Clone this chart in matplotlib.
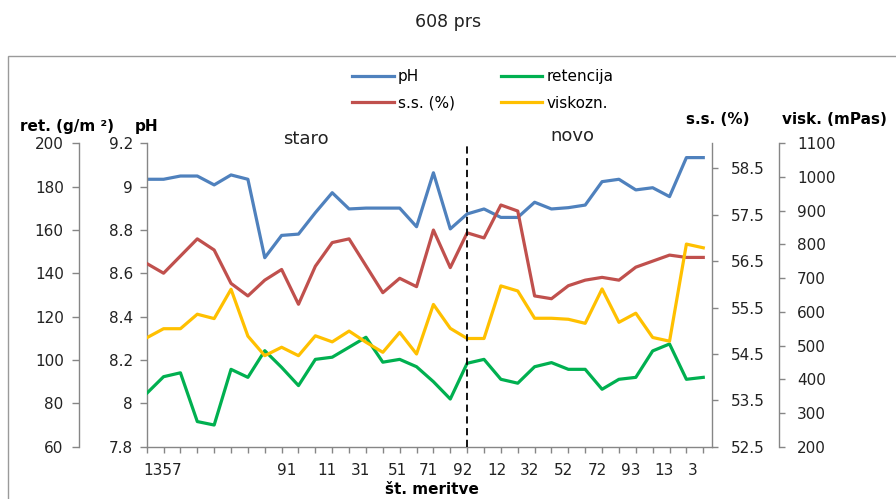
import matplotlib
matplotlib.use("Agg")
import matplotlib.pyplot as plt
from matplotlib.patches import Rectangle
import numpy as np

# ---- data ----
ph = [9.034, 9.034, 9.049, 9.049, 9.008, 9.054, 9.034, 8.672, 8.775, 8.781,
      8.880, 8.972, 8.897, 8.901, 8.901, 8.901, 8.815, 9.064, 8.805, 8.874,
      8.897, 8.858, 8.858, 8.928, 8.897, 8.903, 8.915, 9.023, 9.034, 8.985,
      8.995, 8.954, 9.134, 9.134]
ss = [56.45, 56.24, 56.61, 56.98, 56.74, 56.02, 55.75, 56.09, 56.32, 55.57,
      56.39, 56.90, 56.98, 56.40, 55.82, 56.13, 55.95, 57.17, 56.36, 57.11,
      57.00, 57.71, 57.58, 55.75, 55.69, 55.97, 56.09, 56.15, 56.09, 56.37,
      56.50, 56.63, 56.58, 56.58]
ret = [84.6, 92.3, 94.1, 71.6, 70.0, 95.7, 92.0, 104.3, 96.6, 88.2,
       100.3, 101.3, 105.9, 110.5, 99.0, 100.3, 96.9, 90.0, 82.0, 98.5,
       100.3, 91.1, 89.3, 96.9, 98.8, 95.7, 95.7, 86.5, 91.1, 92.0,
       104.2, 107.4, 91.1, 92.0]
visk = [523, 550, 550, 593, 580, 667, 528, 470, 495, 470,
        529, 511, 543, 510, 480, 539, 475, 622, 551, 521,
        521, 677, 662, 581, 581, 578, 566, 668, 569, 596,
        524, 513, 801, 790]
xlabels = ["1357", "91", "11", "31", "51", "71", "92", "12", "32", "52", "72", "93", "13", "3"]
xlabel_pos = [0.97, 8.32, 10.7, 12.65, 14.9, 16.7, 18.73, 20.75, 22.7, 24.72, 26.7, 28.7, 30.7, 32.4]
split_index = 19

x = np.arange(len(ph))

C_PH = "#4F81BD"
C_SS = "#C0504D"
C_RET = "#00B050"
C_VISK = "#FFC000"
GRAY = "#868686"
TXT = "#222222"
LW = 2.3

W, H = 896, 499
fig = plt.figure(figsize=(W / 100, H / 100), dpi=100)

L, R, T, B = 146.7, 711.7, 143.3, 446.7
ax = fig.add_axes([L / W, 1 - B / H, (R - L) / W, (B - T) / H])
ax_ret = ax.twinx()
ax_ss = ax.twinx()
ax_visk = ax.twinx()

l_ph, = ax.plot(x, ph, color=C_PH, lw=LW, solid_joinstyle="round", label="pH")
l_ret, = ax_ret.plot(x, ret, color=C_RET, lw=LW, solid_joinstyle="round", label="retencija")
l_ss, = ax_ss.plot(x, ss, color=C_SS, lw=LW, solid_joinstyle="round", label="s.s. (%)")
l_visk, = ax_visk.plot(x, visk, color=C_VISK, lw=LW, solid_joinstyle="round", label="viskozn.")

ax_visk.axvline(split_index, color="black", lw=1.3, ls=(0, (4, 2.5)), zorder=10)

# limits
ax.set_xlim(0, 33.5)
ax.set_ylim(7.8, 9.2)
ax_ret.set_ylim(60, 200)
ax_ss.set_ylim(52.5, 59.04)
ax_visk.set_ylim(200, 1100)

ax.set_yticks(np.arange(7.8, 9.21, 0.2))
ax.set_yticklabels(["7.8", "8", "8.2", "8.4", "8.6", "8.8", "9", "9.2"])
ax_ret.set_yticks(np.arange(60, 201, 20))
ax_ss.set_yticks(np.arange(52.5, 58.51, 1.0))
ax_visk.set_yticks(np.arange(200, 1101, 100))

# spines
for a in (ax, ax_ret, ax_ss, ax_visk):
    for s in a.spines.values():
        s.set_visible(False)
        s.set_color(GRAY)
        s.set_linewidth(1.0)

ax.spines["left"].set_visible(True)
ax.spines["bottom"].set_visible(True)

ax_ret.spines["left"].set_visible(True)
ax_ret.spines["left"].set_position(("axes", (79 - L) / (R - L)))
ax_ret.yaxis.set_ticks_position("left")

ax_ss.spines["right"].set_visible(True)
ax_ss.yaxis.set_ticks_position("right")

ax_visk.spines["right"].set_visible(True)
ax_visk.spines["right"].set_position(("axes", (779 - L) / (R - L)))
ax_visk.yaxis.set_ticks_position("right")

FS = 11
ax.tick_params(axis="y", direction="out", length=5, width=1, color=GRAY,
               labelsize=FS, labelcolor=TXT, pad=5)
ax_ret.tick_params(axis="y", direction="out", length=5, width=1, color=GRAY,
                   labelsize=FS, labelcolor=TXT, pad=6)
ax_ss.tick_params(axis="y", direction="out", length=4, width=1, color=GRAY,
                  labelsize=FS, labelcolor=TXT, pad=10)
ax_visk.tick_params(axis="y", direction="out", length=4, width=1, color=GRAY,
                    labelsize=FS, labelcolor=TXT, pad=9)

# x axis: minor tick marks on every category, labels at measured spots
ax.set_xticks(x, minor=True)
ax.set_xticks(xlabel_pos)
ax.set_xticklabels(xlabels)
ax.tick_params(axis="x", which="minor", direction="out", length=4, width=1, color=GRAY)
ax.tick_params(axis="x", which="major", length=0, labelsize=FS, labelcolor=TXT, pad=12)

# axis titles
fig.text(20 / W, 1 - 127 / H, "ret. (g/m ²)", fontsize=11, fontweight="bold",
         ha="left", va="center", color="black")
fig.text(135 / W, 1 - 127 / H, "pH", fontsize=11, fontweight="bold",
         ha="left", va="center", color="black")
fig.text(749 / W, 1 - 119 / H, "s.s. (%)", fontsize=11, fontweight="bold",
         ha="right", va="center", color="black")
fig.text(782 / W, 1 - 119 / H, "visk. (mPas)", fontsize=11, fontweight="bold",
         ha="left", va="center", color="black")
fig.text(432 / W, 1 - 489 / H, "št. meritve", fontsize=11, fontweight="bold",
         ha="center", va="center", color="black")

fig.text(306 / W, 1 - 139 / H, "staro", fontsize=13, ha="center", va="center", color=TXT)
fig.text(572 / W, 1 - 136 / H, "novo", fontsize=13, ha="center", va="center", color=TXT)

fig.text(448 / W, 1 - 22 / H, "608 prs", fontsize=12.5, ha="center", va="center", color=TXT)

# legend
fig.legend([l_ph, l_ss, l_ret, l_visk], ["pH", "s.s. (%)", "retencija", "viskozn."],
           ncol=2, loc="center", bbox_to_anchor=(483 / W, 1 - 90 / H),
           frameon=False, fontsize=11, handlelength=2.7, handletextpad=0.3,
           columnspacing=3.0, labelspacing=0.75, borderpad=0)

# chart-area border
fig.patches.append(Rectangle((8 / W, -0.1), 1.2, 1 - 56 / H + 0.1,
                             transform=fig.transFigure, fill=False,
                             edgecolor="#9a9a9a", lw=1.0))

fig.savefig("out.png", dpi=100)
